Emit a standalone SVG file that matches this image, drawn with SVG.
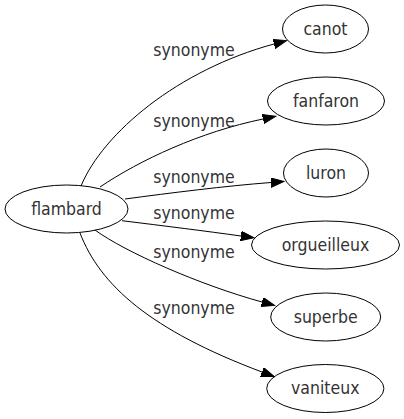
<svg xmlns="http://www.w3.org/2000/svg" width="404" height="419" viewBox="0 0 404 419">
<defs>
<style>
.n ellipse{fill:none;stroke:#000;stroke-width:1}
text{font-family:"DejaVu Sans Condensed","DejaVu Sans","Liberation Sans",sans-serif;font-stretch:condensed;font-size:17.5px;fill:#333;text-anchor:middle}
.e path{fill:none;stroke:#000;stroke-width:1}
</style>
<marker id="ah" markerUnits="userSpaceOnUse" markerWidth="14" markerHeight="10" refX="0" refY="4.7" orient="auto">
<path d="M0,0 L13,4.7 L0,9.4 z" fill="#000" stroke="#000" stroke-width="1"/>
</marker>
</defs>
<rect width="404" height="419" fill="#fff"/>
<g id="edges" class="e">
<path d="M81,186 C103,133 178,70 274,44" marker-end="url(#ah)"/>
<text x="194" y="56">synonyme</text>
<path d="M100,187 C140,160 200,132 263,119" marker-end="url(#ah)"/>
<text x="194" y="127">synonyme</text>
<path d="M125,199 C170,193 225,186 271,182.5" marker-end="url(#ah)"/>
<text x="194" y="183">synonyme</text>
<path d="M122,220.7 C165,226 205,231 241,236" marker-end="url(#ah)"/>
<text x="194" y="219">synonyme</text>
<path d="M95,230 C125,252 200,285 262,302" marker-end="url(#ah)"/>
<text x="194" y="258">synonyme</text>
<path d="M80,233 C100,285 150,330 262,372" marker-end="url(#ah)"/>
<text x="194" y="314">synonyme</text>
</g>
<g id="flambard" class="n"><ellipse cx="66.5" cy="209" rx="61.5" ry="24"/><text x="66.5" y="214.5">flambard</text></g>
<g id="canot" class="n"><ellipse cx="325.5" cy="29" rx="43" ry="24"/><text x="325.5" y="34.5">canot</text></g>
<g id="fanfaron" class="n"><ellipse cx="326" cy="101" rx="58.5" ry="24"/><text x="326" y="106.5">fanfaron</text></g>
<g id="luron" class="n"><ellipse cx="326" cy="173" rx="42.5" ry="24"/><text x="326" y="178.5">luron</text></g>
<g id="orgueilleux" class="n"><ellipse cx="325.5" cy="245" rx="74" ry="24"/><text x="325.5" y="250.5">orgueilleux</text></g>
<g id="superbe" class="n"><ellipse cx="325.7" cy="317" rx="55" ry="24"/><text x="325.7" y="322.5">superbe</text></g>
<g id="vaniteux" class="n"><ellipse cx="325.3" cy="388.5" rx="58.6" ry="24"/><text x="325.3" y="394">vaniteux</text></g>
</svg>
